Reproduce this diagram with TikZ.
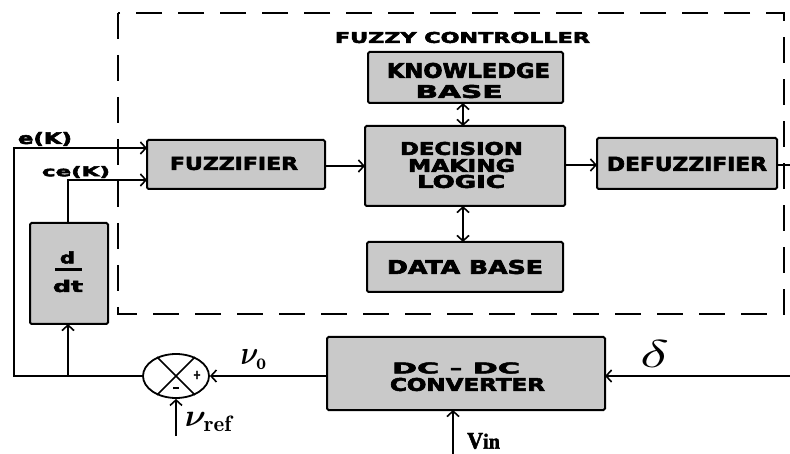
\documentclass[tikz,border=0pt]{standalone}
\usepackage{fontspec}
\usepackage{bm}
\usetikzlibrary{arrows.meta,shapes.geometric}
\newfontfamily\blk[FakeBold=3]{DejaVu Sans}
\newfontfamily\srf[FakeBold=2]{Liberation Serif}
\definecolor{boxgray}{RGB}{201,201,201}
% fit a label into an exact width and height
\newcommand{\fitlbl}[3]{\resizebox{#1pt}{#2pt}{\blk\bfseries #3}}
\newcommand{\fitall}[3]{\resizebox*{#1pt}{#2pt}{#3}}
\tikzset{
  blockbox/.style={draw, fill=boxgray, line width=2pt, rounded corners=1.5pt},
  lbl/.style={inner sep=0pt, outer sep=0pt},
  wire/.style={line width=1.8pt},
  arr/.style={wire, -{Straight Barb[length=5.5pt,width=12pt,line width=1.6pt]}},
  dbl/.style={wire, {Straight Barb[length=5.5pt,width=12pt,line width=1.6pt]}-{Straight Barb[length=5.5pt,width=12pt,line width=1.6pt]}},
  frame/.style={line width=2pt, dash pattern=on 26pt off 16pt},
}
\begin{document}
\begin{tikzpicture}[x=1pt,y=-1pt]
\useasboundingbox (0,0) rectangle (790,454);
\fill[white] (0,0) rectangle (790,454);

% controller frame
\draw[frame] (118,13) rectangle (784,314);
\node[lbl] (title) at (462.5,37.5) {\fitlbl{255}{11}{FUZZY CONTROLLER}};

% blocks
\draw[blockbox] (368,52) rectangle (563,103);
\coordinate (kbS) at (463,103);
\draw[blockbox] (365,126) rectangle (565,206);
\coordinate (dmlN) at (463,126);
\coordinate (dmlS) at (463,206);
\draw[blockbox] (367,242) rectangle (563,292);
\coordinate (dbN) at (463,242);
\draw[blockbox] (147,140) rectangle (325,189);
\draw[blockbox] (597,138) rectangle (777,189);
\draw[blockbox] (30,223) rectangle (108,324);
\draw[blockbox] (327,337) rectangle (605,410);

% block texts
\node[lbl] (kb1) at (468.5,70.5) {\fitlbl{163}{15}{KNOWLEDGE}};
\node[lbl] (kb2) at (459,91.5) {\fitlbl{87}{13}{BASE}};
\node[lbl] (dm1) at (461.5,148.5) {\fitlbl{123}{13}{DECISION}};
\node[lbl] (dm2) at (461.5,165.5) {\fitlbl{107}{13}{MAKING}};
\node[lbl] (dm3) at (461,181.5) {\fitlbl{88}{13}{LOGIC}};
\node[lbl] (fz) at (234,163.5) {\fitlbl{128}{13}{FUZZIFIER}};
\node[lbl] (dfz) at (687,164) {\fitlbl{160}{14}{DEFUZZIFIER}};
\node[lbl] (dbt) at (465,267) {\fitlbl{156}{14}{DATA BASE}};
\node[lbl] (cv1) at (456,368) {\fitlbl{128}{11}{DC - DC}};
\node[lbl] (cv2) at (467.5,384.5) {\fitlbl{155}{13}{CONVERTER}};
\node[lbl] (dd1) at (67.5,257.5) {\fitlbl{15}{12}{d}};
\node[lbl] (dd2) at (68,286) {\fitlbl{30}{12}{dt}};
\draw[line width=2.4pt] (55,269.5) -- (82,269.5);

% summing junction
\node[draw, ellipse, line width=1.8pt, minimum width=66pt, minimum height=44pt, inner sep=0pt] (sum) at (176,376) {};
\draw[line width=1.6pt] (sum.45) -- (sum.225) (sum.135) -- (sum.315);
\node[lbl] (plus) at (197,375) {\resizebox{8pt}{8pt}{\blk\bfseries +}};
\node[lbl] (minus) at (176,388) {\resizebox{6pt}{2.5pt}{\rule{1pt}{1pt}}};

% signal labels
\node[lbl] (ek) at (45,139) {\fitall{54}{14}{\blk\bfseries e(K)}};
\node[lbl] (cek) at (76,172) {\fitall{68}{12}{\blk\bfseries ce(K)}};
\node[lbl] (vo) at (254,360) {\fitall{27}{20}{$\bm{\nu}_{\mathbf{o}}$}};
\node[lbl] (vref) at (209,422) {\fitall{48}{19}{$\bm{\nu}_{\mathbf{ref}}$}};
\node[lbl] (dl) at (654.5,353.5) {\fitall{29}{27}{$\delta$}};
\node[lbl] (vin) at (483.5,441) {\fitall{33}{16}{\srf\bfseries V{\small in}}};

% connection points
\coordinate (fzW1) at (147,148);
\coordinate (fzW2) at (147,180);
\coordinate (fzE) at (325,166);
\coordinate (dmlW) at (365,166);
\coordinate (dmlE) at (565,165);
\coordinate (dfzW) at (597,165);
\coordinate (dfzE) at (777,165);
\coordinate (outR) at (790,165);
\coordinate (ddtS) at (68,324);
\coordinate (ddtN) at (68,223);
\coordinate (cvE) at (605,376);
\coordinate (cvW) at (327,376);
\coordinate (cvS) at (453,410);
\coordinate (dIn) at (790,376);
\coordinate (vinIn) at (453,454);
\coordinate (refIn) at (176,436);
\coordinate (tap) at (68,376);
\coordinate (corner) at (14,376);

% connectors
\draw[arr] (sum.west) -- (corner) |- (fzW1);
\draw[arr] (tap) -- (ddtS);
\draw[arr] (ddtN) |- (fzW2);
\draw[arr] (fzE) -- (dmlW);
\draw[arr] (dmlE) -- (dfzW);
\draw[wire] (dfzE) -- (outR);
\draw[dbl] (kbS) -- (dmlN);
\draw[dbl] (dmlS) -- (dbN);
\draw[arr] (dIn) -- (cvE);
\draw[arr] (cvW) -- (sum.east);
\draw[arr] (refIn) -- (sum.south);
\draw[arr] (vinIn) -- (cvS);
\end{tikzpicture}
\end{document}
